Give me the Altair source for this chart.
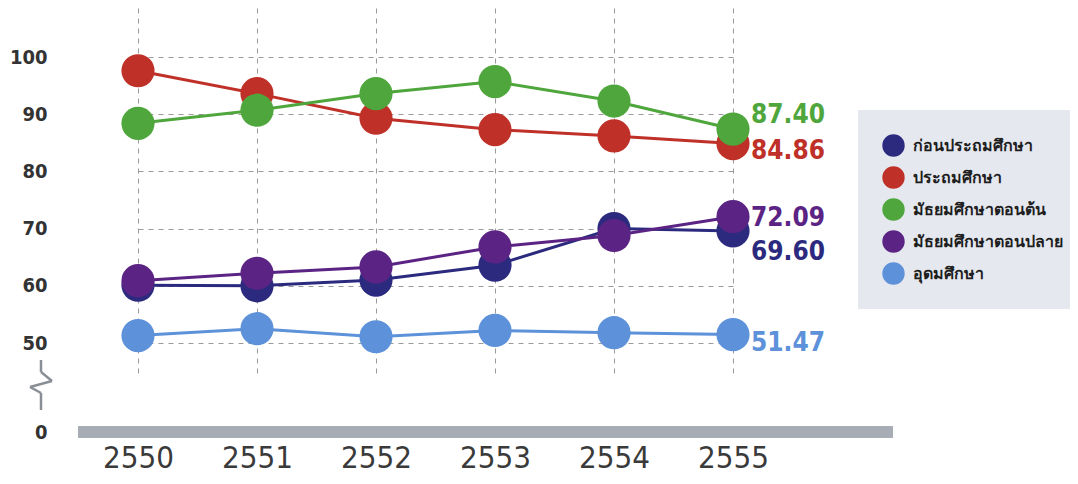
import altair as alt
import pandas as pd

years = [2550, 2551, 2552, 2553, 2554, 2555]
series_names = ["ก่อนประถมศึกษา", "ประถมศึกษา", "มัธยมศึกษาตอนต้น", "มัธยมศึกษาตอนปลาย", "อุดมศึกษา"]
colors = ["#2c2a7e", "#bf3128", "#4fa63c", "#5b2484", "#5d91d9"]

preschool = [60.1, 60.0, 61.0, 63.6, 70.0, 69.60]
primary = [97.6, 93.6, 89.3, 87.3, 86.2, 84.86]
lower_sec = [88.4, 90.7, 93.6, 95.7, 92.3, 87.40]
upper_sec = [60.9, 62.2, 63.3, 66.8, 68.8, 72.09]
higher = [51.3, 52.5, 51.1, 52.2, 51.8, 51.47]

all_series = [preschool, primary, lower_sec, upper_sec, higher]

# end labels (value text, anchored height in data units)
end_labels = ["69.60", "84.86", "87.40", "72.09", "51.47"]
end_label_y = [65.9, 83.6, 89.9, 71.8, 49.9]

y_ticks = [0, 50, 60, 70, 80, 90, 100]

rows = []
for name, vals in zip(series_names, all_series):
    for yr, v in zip(years, vals):
        rows.append({"year": yr, "value": v, "series": name})
df = pd.DataFrame(rows)

lab_df = pd.DataFrame({
    "year": [years[-1]] * 5,
    "ly": end_label_y,
    "text": end_labels,
    "series": series_names,
})

FONT = "DejaVu Sans Condensed, Open Sans, sans-serif"

xs = alt.Scale(domain=[2550, 2555], range=[62, 657], nice=False)
ys = alt.Scale(domain=[0, 50, 100], range=[422, 333, 47], nice=False, zero=False)
cs = alt.Scale(domain=series_names, range=colors)

leg = alt.Legend(
    title=None, orient="none", legendX=782, legendY=100,
    fillColor="#e5e8ef", padding=24, symbolSize=500, symbolType="circle",
    symbolStrokeWidth=0, labelFontSize=16, labelColor="#1e1e1e",
    labelFont="Noto Sans, sans-serif", labelFontWeight="bold", rowPadding=9,
    symbolOffset=0, labelOffset=8, labelLimit=300, values=series_names)

color_enc = alt.Color("series:N", scale=cs, sort=series_names, legend=leg)

base = alt.Chart(df)

grid_layer = alt.Chart(df).mark_point(opacity=0).encode(
    x=alt.X("year:Q", scale=xs, axis=alt.Axis(
        values=years, format="d", title=None, grid=True, gridDash=[5, 5],
        gridColor="#9a9a9a", gridWidth=1, domain=False, ticks=False,
        labelFontSize=31, labelColor="#3a3a3a", labelFont=FONT,
        labelPadding=23, labelFontWeight="normal", labelFlush=False)),
    y=alt.Y("value:Q", scale=ys, axis=alt.Axis(
        values=y_ticks, title=None, grid=True, gridDash=[5, 5],
        gridColor="#9a9a9a", gridWidth=1, domain=False, ticks=False,
        labelFontSize=20, labelColor="#333333", labelFont=FONT,
        labelFontWeight="bold", labelPadding=29)),
)

zero_bar = alt.Chart(pd.DataFrame({"z": [0]})).mark_rule(
    color="#a8adb5", strokeWidth=12).encode(
    y=alt.Y("z:Q", scale=ys), x=alt.value(2), x2=alt.value(817))

zig = []
pts = [(-35, 350), (-35, 362), (-24, 371), (-46, 377), (-35, 383), (-35, 400)]
for (x1, y1), (x2, y2) in zip(pts[:-1], pts[1:]):
    zig.append(alt.Chart(pd.DataFrame({"a": [0]})).mark_rule(
        color="#8a8f96", strokeWidth=2.5).encode(
        x=alt.value(x1), x2=alt.value(x2), y=alt.value(y1), y2=alt.value(y2)))

lines = base.mark_line(strokeWidth=3).encode(
    x=alt.X("year:Q", scale=xs),
    y=alt.Y("value:Q", scale=ys),
    color=color_enc,
)

points = base.mark_circle(size=1100, opacity=1).encode(
    x=alt.X("year:Q", scale=xs),
    y=alt.Y("value:Q", scale=ys),
    color=color_enc,
)

labels = alt.Chart(lab_df).mark_text(
    align="left", baseline="middle", dx=18, fontSize=26, fontWeight="bold",
    font=FONT).encode(
    x=alt.X("year:Q", scale=xs),
    y=alt.Y("ly:Q", scale=ys),
    text="text:N",
    color=color_enc,
)

chart = alt.layer(grid_layer, zero_bar, *zig, lines, points, labels).properties(
    width=815, height=410,
    background="white",
    autosize=alt.AutoSizeParams(type="none"),
    padding={"left": 68, "top": 2, "right": 179, "bottom": 64},
).configure_view(strokeWidth=0, stroke=None)

chart.save("out.html", embed_options={"renderer": "svg", "actions": False})
